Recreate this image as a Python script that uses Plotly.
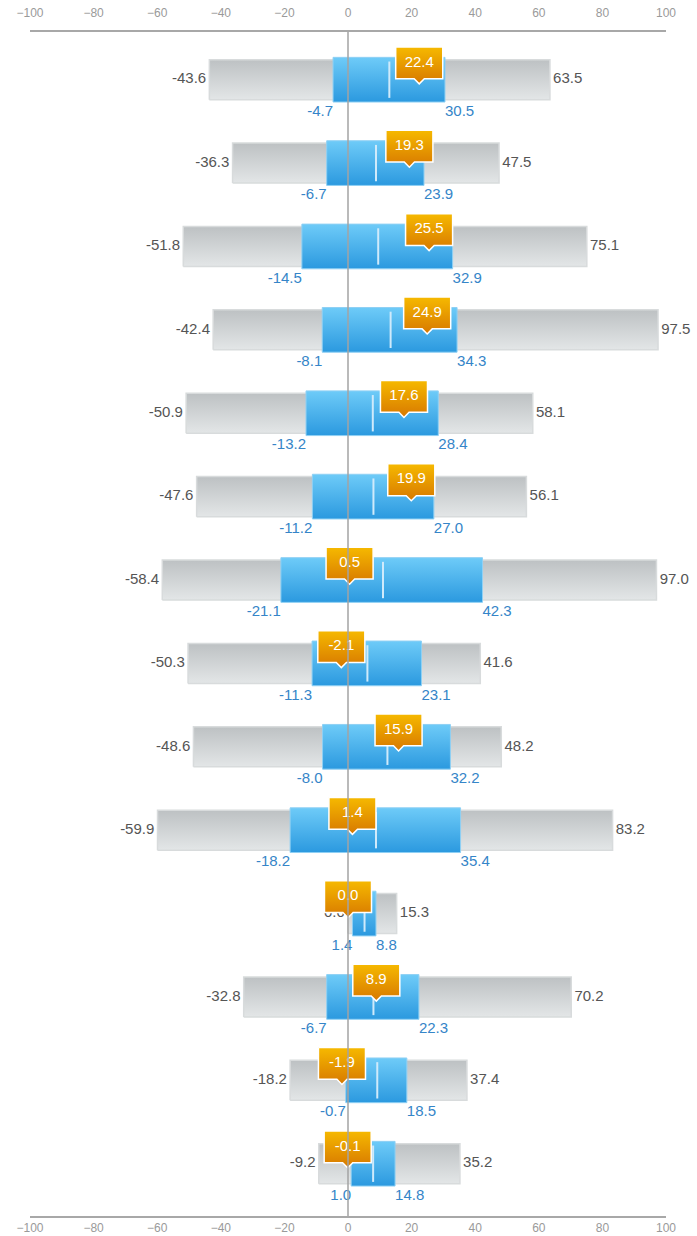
import plotly.graph_objects as go

# ---- data (one row per box, top to bottom) ----
mins    = [-43.6, -36.3, -51.8, -42.4, -50.9, -47.6, -58.4, -50.3, -48.6, -59.9, 0.0, -32.8, -18.2, -9.2]
q1s     = [-4.7, -6.7, -14.5, -8.1, -13.2, -11.2, -21.1, -11.3, -8.0, -18.2, 1.4, -6.7, -0.7, 1.0]
medians = [13.0, 8.8, 9.5, 13.4, 7.8, 8.0, 11.0, 6.1, 12.4, 8.8, 5.2, 8.0, 9.2, 7.9]
q3s     = [30.5, 23.9, 32.9, 34.3, 28.4, 27.0, 42.3, 23.1, 32.2, 35.4, 8.8, 22.3, 18.5, 14.8]
maxs    = [63.5, 47.5, 75.1, 97.5, 58.1, 56.1, 97.0, 41.6, 48.2, 83.2, 15.3, 70.2, 37.4, 35.2]
means   = [22.4, 19.3, 25.5, 24.9, 17.6, 19.9, 0.5, -2.1, 15.9, 1.4, 0.0, 8.9, -1.9, -0.1]
x_ticks = [-100, -80, -60, -40, -20, 0, 20, 40, 60, 80, 100]

# ---- styles ----
FONT = "Liberation Sans, Arial, sans-serif"
GREY_H = 0.24      # half height of range bar (row units)
BLUE_H = 0.268     # half height of quartile box
MED_INSET = 0.05
CALL_W = 7.4       # callout half width (x units)
CALL_P = 1.6       # pointer half width
CALL_TOP = 0.393
CALL_BOT = 0.012
CALL_TIP = -0.05
LBL_PAD = 1.0      # gap between range bar and min/max label (x units)
QLBL_GAP = 0.03    # gap under quartile box for quartile labels (row units)

n = len(mins)
ys = [-i for i in range(n)]

fig = go.Figure()

def rect(x0, x1, yc, h):
    return [x0, x1, x1, x0, x0], [yc - h, yc - h, yc + h, yc + h, yc - h]

# grey range bars
for i in range(n):
    xs, yv = rect(mins[i], maxs[i], ys[i], GREY_H)
    fig.add_trace(go.Scatter(
        x=xs, y=yv, mode="lines", fill="toself",
        line=dict(color="#d8dbdc", width=1.5),
        fillgradient=dict(type="vertical", colorscale=[[0, "#e3e6e7"], [1, "#bdc1c3"]]),
        hoverinfo="skip", showlegend=False))

# blue quartile boxes
for i in range(n):
    xs, yv = rect(q1s[i], q3s[i], ys[i], BLUE_H)
    fig.add_trace(go.Scatter(
        x=xs, y=yv, mode="lines", fill="toself",
        line=dict(color="#8fd0f4", width=1),
        fillgradient=dict(type="vertical", colorscale=[[0, "#2b99df"], [1, "#6ecbf8"]]),
        hoverinfo="skip", showlegend=False))

# median lines
mx, my = [], []
for i in range(n):
    mx += [medians[i], medians[i], None]
    my += [ys[i] - BLUE_H + MED_INSET, ys[i] + BLUE_H - MED_INSET, None]
fig.add_trace(go.Scatter(x=mx, y=my, mode="lines",
                         line=dict(color="#cfeafb", width=2),
                         hoverinfo="skip", showlegend=False))

# value labels
def fmt(v):
    return f"{v:.1f}"

fig.add_trace(go.Scatter(x=[v - LBL_PAD for v in mins], y=ys, mode="text",
                         text=[fmt(v) for v in mins], textposition="middle left",
                         textfont=dict(family=FONT, size=15, color="#555555"),
                         cliponaxis=False, hoverinfo="skip", showlegend=False))
fig.add_trace(go.Scatter(x=[v + LBL_PAD for v in maxs], y=ys, mode="text",
                         text=[fmt(v) for v in maxs], textposition="middle right",
                         textfont=dict(family=FONT, size=15, color="#555555"),
                         cliponaxis=False, hoverinfo="skip", showlegend=False))
fig.add_trace(go.Scatter(x=q1s, y=[y - BLUE_H - QLBL_GAP for y in ys], mode="text",
                         text=[fmt(v) for v in q1s], textposition="bottom left",
                         textfont=dict(family=FONT, size=15, color="#3585c8"),
                         cliponaxis=False, hoverinfo="skip", showlegend=False))
fig.add_trace(go.Scatter(x=q3s, y=[y - BLUE_H - QLBL_GAP for y in ys], mode="text",
                         text=[fmt(v) for v in q3s], textposition="bottom right",
                         textfont=dict(family=FONT, size=15, color="#3585c8"),
                         cliponaxis=False, hoverinfo="skip", showlegend=False))

# mean callouts
for i in range(n):
    m, yc = means[i], ys[i]
    xs = [m - CALL_W, m + CALL_W, m + CALL_W, m + CALL_P, m, m - CALL_P, m - CALL_W, m - CALL_W]
    yv = [yc + CALL_TOP, yc + CALL_TOP, yc + CALL_BOT, yc + CALL_BOT, yc + CALL_TIP,
          yc + CALL_BOT, yc + CALL_BOT, yc + CALL_TOP]
    fig.add_trace(go.Scatter(
        x=xs, y=yv, mode="lines", fill="toself",
        line=dict(color="#ffffff", width=1.5),
        fillgradient=dict(type="vertical", colorscale=[[0, "#d77800"], [1, "#f6b900"]]),
        hoverinfo="skip", showlegend=False))

fig.add_trace(go.Scatter(x=means, y=[y + (CALL_TOP + CALL_BOT) / 2 for y in ys],
                         mode="text", text=[fmt(v) for v in means],
                         textposition="middle center",
                         textfont=dict(family=FONT, size=15, color="#ffffff"),
                         cliponaxis=False, hoverinfo="skip", showlegend=False))

# dummy trace for top axis
fig.add_trace(go.Scatter(x=[None], y=[None], xaxis="x2", showlegend=False, hoverinfo="skip"))

# zero line on top
fig.add_shape(type="line", xref="x", yref="paper", x0=0, x1=0, y0=0, y1=1,
              line=dict(color="#a3a3a3", width=1.5), layer="above")

axis_style = dict(range=[-100, 100], tickvals=x_ticks, showgrid=False, zeroline=False,
                  showline=True, linecolor="#a8a8a8", linewidth=2, ticks="",
                  automargin=False,
                  tickfont=dict(family=FONT, size=12, color="#9a9a9a"), fixedrange=True)

fig.update_layout(
    width=697, height=1236,
    margin=dict(l=30, r=31, t=32, b=20, autoexpand=False),
    paper_bgcolor="white", plot_bgcolor="white",
    showlegend=False,
    xaxis=dict(**axis_style, side="bottom", ticklabelstandoff=0),
    xaxis2=dict(**axis_style, side="top", overlaying="x", matches="x", ticklabelstandoff=8),
    yaxis=dict(range=[-13.627, 0.572], showgrid=False, zeroline=False, showticklabels=False,
               showline=False, fixedrange=True, automargin=False),
)

fig.write_html("out.html")
